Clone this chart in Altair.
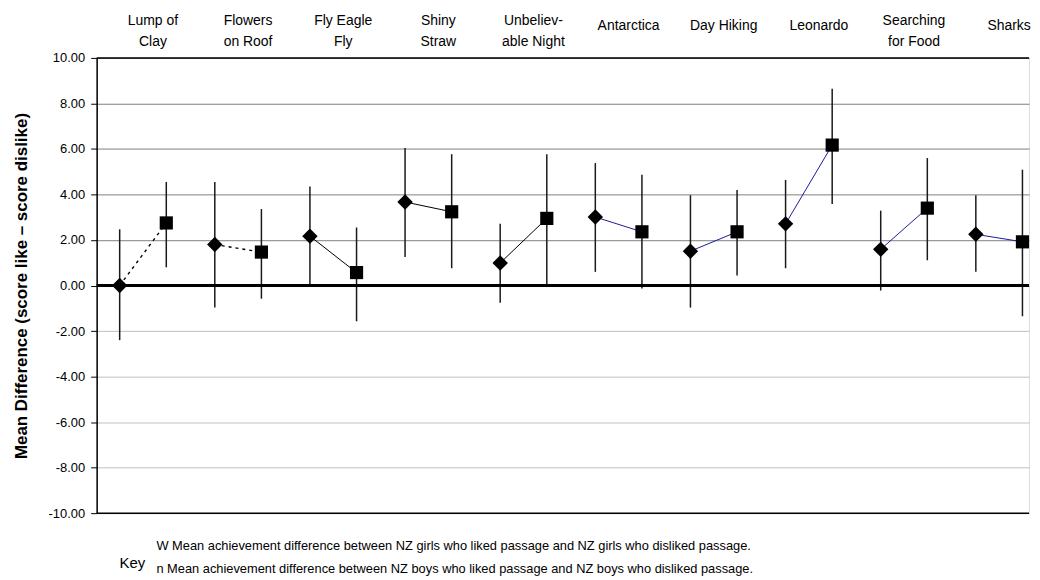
import altair as alt
import pandas as pd

# ---- data ----
categories = ["Lump of Clay", "Flowers on Roof", "Fly Eagle Fly", "Shiny Straw",
              "Unbelievable Night", "Antarctica", "Day Hiking", "Leonardo",
              "Searching for Food", "Sharks"]
header_labels = ["Lump of\nClay", "Flowers\non Roof", "Fly Eagle\nFly", "Shiny\nStraw",
                 "Unbeliev-\nable Night", "Antarctica", "Day Hiking", "Leonardo",
                 "Searching\nfor Food", "Sharks"]
girls_mean = [0.00, 1.80, 2.17, 3.67, 0.99, 3.01, 1.51, 2.71, 1.59, 2.25]
girls_low = [-2.40, -0.97, 0.04, 1.25, -0.76, 0.60, -0.97, 0.76, -0.22, 0.60]
girls_high = [2.47, 4.55, 4.35, 6.04, 2.71, 5.38, 3.97, 4.64, 3.29, 3.97]
boys_mean = [2.75, 1.47, 0.57, 3.24, 2.95, 2.36, 2.36, 6.17, 3.40, 1.92]
boys_low = [0.80, -0.58, -1.57, 0.76, 0.04, -0.13, 0.44, 3.58, 1.11, -1.35]
boys_high = [4.55, 3.36, 2.55, 5.77, 5.77, 4.87, 4.20, 8.65, 5.60, 5.09]
y_ticks = [-10, -8, -6, -4, -2, 0, 2, 4, 6, 8, 10]
y_title = "Mean Difference (score like \u2013 score dislike)"
key_word = "Key"
key_line_girls = "W Mean achievement difference between NZ girls who liked passage and NZ girls who disliked passage."
key_line_boys = "n Mean achievement difference between NZ boys who liked passage and NZ boys who disliked passage."

# ---- tables built from the arrays ----
OFF = 0.245
rows = []
for i, c in enumerate(categories):
    rows.append(dict(cat=c, idx=i, group="girls", x=i - OFF,
                     mean=girls_mean[i], lo=girls_low[i], hi=girls_high[i]))
    rows.append(dict(cat=c, idx=i, group="boys", x=i + OFF,
                     mean=boys_mean[i], lo=boys_low[i], hi=boys_high[i]))
df = pd.DataFrame(rows)

hdr_rows = []
for i, lab in enumerate(header_labels):
    parts = lab.split("\n")
    if len(parts) == 1:
        hdr_rows.append(dict(idx=i, text=parts[0], line="single"))
    else:
        hdr_rows.append(dict(idx=i, text=parts[0], line="top"))
        hdr_rows.append(dict(idx=i, text=parts[1], line="bottom"))
hdr = pd.DataFrame(hdr_rows)
frame = pd.DataFrame({"v": [y_ticks[0], y_ticks[-1]]})
zero = pd.DataFrame({"v": [0]})

FONT = "Liberation Sans"
xscale = alt.Scale(domain=[-0.487, 9.314], nice=False, zero=False)
yscale = alt.Scale(domain=[y_ticks[0], y_ticks[-1]], nice=False, zero=False)
yaxis = alt.Axis(values=y_ticks,
                 labelExpr="replace(format(datum.value, '.2f'), '\u2212', '-')",
                 labelFont=FONT, labelFontSize=13,
                 labelColor="black", tickColor="black", tickSize=6, tickWidth=1,
                 labelPadding=6, domainColor="black", domainWidth=1.5,
                 grid=True, gridWidth=1,
                 gridColor={"condition": {"test": "datum.value < 0", "value": "#c0c0c0"},
                            "value": "#808080"},
                 title=y_title, titleFont=FONT, titleFontSize=17,
                 titleFontWeight="bold", titleColor="black", titlePadding=18)


def X(field):
    return alt.X(field, type="quantitative", scale=xscale, axis=None)


def Y(field):
    return alt.Y(field, type="quantitative", scale=yscale, axis=yaxis)


base = alt.Chart(df)

errbars = base.mark_rule(color="#1a1a1a", strokeWidth=1.5).encode(
    x=X("x"), y=Y("lo"), y2="hi")

frame_rules = alt.Chart(frame).mark_rule(color="black", strokeWidth=1.5).encode(y=Y("v"))
zero_rule = alt.Chart(zero).mark_rule(color="black", strokeWidth=3).encode(y=Y("v"))

dashed_line = base.transform_filter(
    alt.FieldOneOfPredicate(field="cat", oneOf=categories[:2])
).mark_line(color="black", strokeWidth=1.4, strokeDash=[3, 4]).encode(
    x=X("x"), y=Y("mean"), detail="cat:N", order="x:Q")
black_line = base.transform_filter(
    alt.FieldOneOfPredicate(field="cat", oneOf=categories[2:5])
).mark_line(color="black", strokeWidth=1).encode(
    x=X("x"), y=Y("mean"), detail="cat:N", order="x:Q")
blue_line = base.transform_filter(
    alt.FieldOneOfPredicate(field="cat", oneOf=categories[5:])
).mark_line(color="#1c1c9c", strokeWidth=1).encode(
    x=X("x"), y=Y("mean"), detail="cat:N", order="x:Q")

girls_pts = base.transform_filter(alt.datum.group == "girls").mark_point(
    shape="diamond", filled=True, size=240, color="black", opacity=1).encode(
    x=X("x"), y=Y("mean"))
boys_pts = base.transform_filter(alt.datum.group == "boys").mark_point(
    shape="square", filled=True, size=175, color="black", opacity=1).encode(
    x=X("x"), y=Y("mean"))


def header_layer(which, ypix):
    return alt.Chart(hdr).transform_filter(alt.datum.line == which).mark_text(
        font=FONT, fontSize=14, color="black", align="center", baseline="middle",
        dx=10).encode(x=X("idx"), y=alt.value(ypix), text="text:N")


header_top = header_layer("top", -37)
header_bottom = header_layer("bottom", -16)
header_single = header_layer("single", -32)

key_label = alt.Chart(pd.DataFrame({"t": [key_word]})).mark_text(
    font=FONT, fontSize=15, color="black", align="left", baseline="middle").encode(
    x=alt.value(23), y=alt.value(507), text="t:N")
key_girls = alt.Chart(pd.DataFrame({"t": [key_line_girls]})).mark_text(
    font=FONT, fontSize=12.9, color="black", align="left", baseline="middle").encode(
    x=alt.value(60), y=alt.value(490), text="t:N")
key_boys = alt.Chart(pd.DataFrame({"t": [key_line_boys]})).mark_text(
    font=FONT, fontSize=12.9, color="black", align="left", baseline="middle").encode(
    x=alt.value(60), y=alt.value(513), text="t:N")

chart = alt.layer(
    errbars, frame_rules, zero_rule, dashed_line, black_line, blue_line,
    girls_pts, boys_pts, header_top, header_bottom, header_single,
    key_label, key_girls, key_boys
).properties(
    width=936, height=457,
    padding={"left": 89, "top": 49, "right": 3, "bottom": 65},
    autosize=alt.AutoSizeParams(type="none"),
).configure_view(stroke=None).configure(background="white")

chart.save("out.html", embed_options={"renderer": "svg", "actions": False})
